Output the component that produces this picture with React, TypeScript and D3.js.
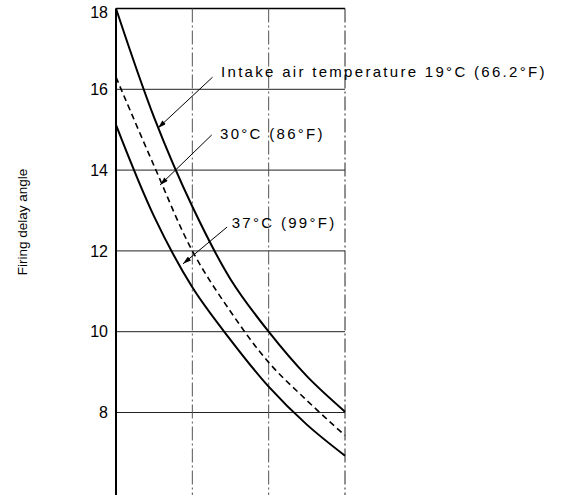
import React from "react";
import * as d3 from "d3";

const xValues = [0, 0.5, 1, 1.5, 2, 2.5, 3];
const curve19 = [18, 15.3, 13.1, 11.3, 10.0, 8.9, 8.02];
const curve30 = [16.3, 14.1, 12.0, 10.5, 9.24, 8.3, 7.43];
const curve37 = [15.12, 12.85, 11.1, 9.8, 8.64, 7.7, 6.93];
const yTicks = [8, 10, 12, 14, 16, 18];
const xGrid = [1, 2, 3];
const labels = [
  "Intake air temperature 19°C (66.2°F)",
  "30°C (86°F)",
  "37°C (99°F)",
];
// annotation positions in data units: [textX, textY, lineX1, lineY1, tipX, tipY]
const annotations = [
  [1.376, 16.31, 1.265, 16.3, 0.55, 15.04],
  [1.363, 14.76, 1.254, 14.87, 0.577, 13.63],
  [1.516, 12.56, 1.455, 12.59, 0.878, 11.68],
];
const yTitle = "Firing delay angle";

export default function App() {
  const W = 563;
  const H = 495;
  const x = d3.scaleLinear().domain([0, 3]).range([116, 345]);
  const y = d3.scaleLinear().domain([8, 18]).range([412.5, 8.5]);
  const yBottom = H;
  const line = d3
    .line<number>()
    .x((_, i) => x(xValues[i]))
    .y((d) => y(d))
    .curve(d3.curveCatmullRom.alpha(0.5));
  const font = "'Liberation Sans', Arial, Helvetica, sans-serif";
  const series = [
    { v: curve19, dash: undefined as string | undefined },
    { v: curve30, dash: "6,4" },
    { v: curve37, dash: undefined },
  ];
  return (
    <div style={{ position: "fixed", left: 0, top: 0 }}>
      <svg width={W} height={H} style={{ display: "block", background: "#fff" }}>
        <defs>
          <marker
            id="arr"
            viewBox="0 0 10 6"
            refX="10"
            refY="3"
            markerWidth="9"
            markerHeight="5"
            markerUnits="userSpaceOnUse"
            orient="auto"
          >
            <path d="M0,0 L10,3 L0,6 Z" fill="#000" />
          </marker>
        </defs>
        {/* horizontal grid */}
        {yTicks.map((t) => (
          <line
            key={"h" + t}
            x1={x(0)}
            x2={x(3)}
            y1={y(t)}
            y2={y(t)}
            stroke={t === 18 ? "#000" : "#222"}
            strokeWidth={t === 18 ? 1.4 : 1}
          />
        ))}
        {/* vertical grid */}
        {xGrid.map((g) => (
          <line
            key={"v" + g}
            x1={x(g)}
            x2={x(g)}
            y1={y(18)}
            y2={yBottom}
            stroke={g === 3 ? "#222" : "#555"}
            strokeWidth={1}
            strokeDasharray="14,3,2,3"
          />
        ))}
        {/* left axis */}
        <line x1={x(0)} x2={x(0)} y1={y(18)} y2={yBottom} stroke="#000" strokeWidth={2} />
        {/* tick labels */}
        {yTicks.map((t) => (
          <text
            key={"t" + t}
            x={x(0) - 8}
            y={y(t) + (t === 18 ? 4 : 0)}
            dy="0.36em"
            textAnchor="end"
            fontFamily={font}
            fontSize={16}
            fill="#000"
          >
            {t}
          </text>
        ))}
        {/* y title */}
        <text
          transform={`translate(22,222) rotate(-90)`}
          textAnchor="middle"
          dy="0.35em"
          fontFamily={font}
          fontSize={13.5}
          fill="#000"
        >
          {yTitle}
        </text>
        {/* curves */}
        {series.map((s, i) => (
          <path
            key={"c" + i}
            d={line(s.v) || ""}
            fill="none"
            stroke="#000"
            strokeWidth={i === 1 ? 1.6 : 2}
            strokeDasharray={s.dash}
          />
        ))}
        {/* annotations */}
        {annotations.map((a, i) => (
          <g key={"a" + i}>
            <line
              x1={x(a[2])}
              y1={y(a[3])}
              x2={x(a[4])}
              y2={y(a[5])}
              stroke="#000"
              strokeWidth={1}
              markerEnd="url(#arr)"
            />
            <text
              x={x(a[0])}
              y={y(a[1])}
              fontFamily={font}
              fontSize={15}
              letterSpacing={2.3}
              fill="#000"
            >
              {labels[i]}
            </text>
          </g>
        ))}
      </svg>
    </div>
  );
}
